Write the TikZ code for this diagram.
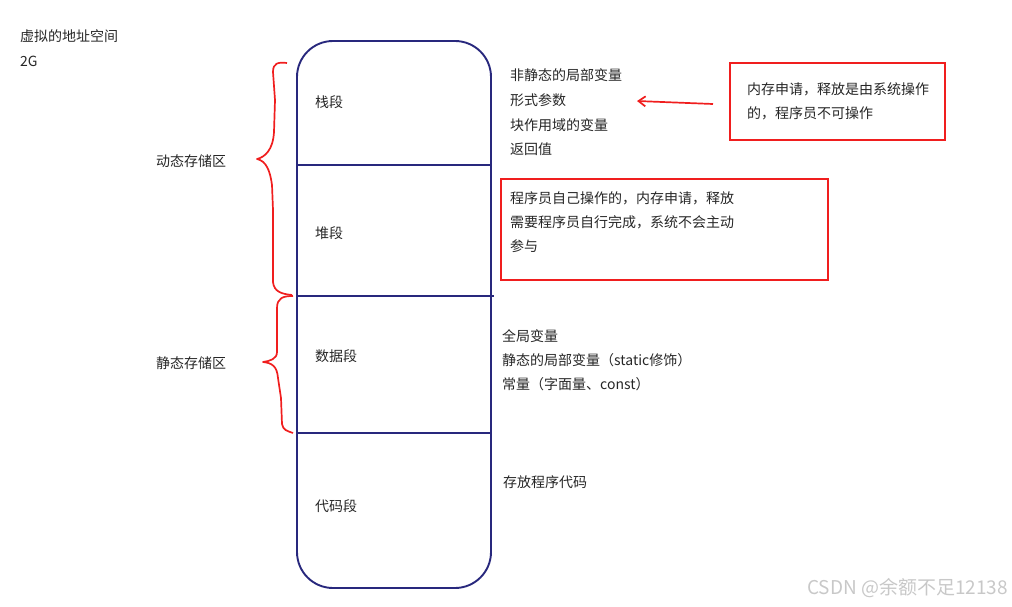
\documentclass[tikz,border=0pt]{standalone}
\usepackage{fontspec}
\setmainfont{Noto Sans CJK SC}
\usetikzlibrary{arrows.meta}
\definecolor{navy}{RGB}{40,40,125}
\definecolor{redline}{RGB}{240,30,30}
\definecolor{wm}{RGB}{200,200,200}
\begin{document}
\begin{tikzpicture}[x=1pt,y=-1pt,
  txt/.style={anchor=west,inner sep=0pt,font=\fontsize{14}{16}\selectfont,text=black!85},
  seg/.style={txt},
  redbox/.style={draw=redline,line width=1.8pt},
  brace/.style={draw=redline,line width=1.7pt,line join=round},
  divider/.style={draw=navy,line width=1.7pt}]
\useasboundingbox (0,0) rectangle (1012,607);
% main column
\draw[navy,line width=1.9pt,rounded corners=36pt] (297,41) rectangle (491,588);
\coordinate (d1l) at (297,165); \coordinate (d1r) at (491,165);
\coordinate (d2l) at (297,296); \coordinate (d2r) at (494,296);
\coordinate (d3l) at (297,433); \coordinate (d3r) at (491,433);
\draw[divider] (d1l) -- (d1r);
\draw[divider] (d2l) -- (d2r);
\draw[divider] (d3l) -- (d3r);
% titles
\node[txt] (t1) at (20,36) {虚拟的地址空间};
\node[txt] (t2) at (20,61) {2G};
% segment labels
\node[seg] (s1) at (315,102) {栈段};
\node[seg] (s2) at (315,233) {堆段};
\node[seg] (s3) at (315,356) {数据段};
\node[seg] (s4) at (315,506) {代码段};
% region labels
\node[txt] (r1) at (156,161) {动态存储区};
\node[txt] (r2) at (156,363) {静态存储区};
% braces
\draw[brace] (287,63) .. controls (278,62) and (273,63) .. (273,72)
  -- (275,100) -- (274,132) .. controls (273,150) and (265,157) .. (257,159)
  .. controls (266,161) and (270,170) .. (272,185) -- (273,210) -- (273,282)
  .. controls (274,292) and (282,294) .. (292,295);
\draw[brace] (293,296) .. controls (283,296) and (277,298) .. (277,308)
  -- (277,352) .. controls (277,359) and (270,361) .. (263,362)
  .. controls (272,363) and (277,366) .. (278,378) -- (281,398) -- (282,424)
  .. controls (283,430) and (287,431) .. (293,433);
% stack texts
\node[txt] (a1) at (510,75) {非静态的局部变量};
\node[txt] (a2) at (510,100) {形式参数};
\node[txt] (a3) at (510,125) {块作用域的变量};
\node[txt] (a4) at (510,149) {返回值};
% box 1
\draw[redbox] (730,63) rectangle (945,140);
\node[txt] (b1) at (747,89) {内存申请，释放是由系统操作};
\node[txt] (b2) at (747,113) {的，程序员不可操作};
\coordinate (arrs) at (713,104);
\draw[redline,line width=1.7pt,-{Straight Barb[length=7pt,width=10pt]}] (arrs) -- (637,101);
% box 2
\draw[redbox] (501,179) rectangle (828,280);
\node[txt] (c1) at (510,198) {程序员自己操作的，内存申请，释放};
\node[txt] (c2) at (510,222) {需要程序员自行完成，系统不会主动};
\node[txt] (c3) at (510,246) {参与};
% data texts
\node[txt] (e1) at (502,336) {全局变量};
\node[txt] (e2) at (502,360) {静态的局部变量（static修饰）};
\node[txt] (e3) at (502,384) {常量（字面量、const）};
% code text
\node[txt] (f1) at (503,482) {存放程序代码};
% watermark
\node[anchor=east,inner sep=0pt,font=\fontsize{19}{21}\selectfont,text=wm] (wmk) at (1008,588) {CSDN @余额不足12138};
\end{tikzpicture}
\end{document}
